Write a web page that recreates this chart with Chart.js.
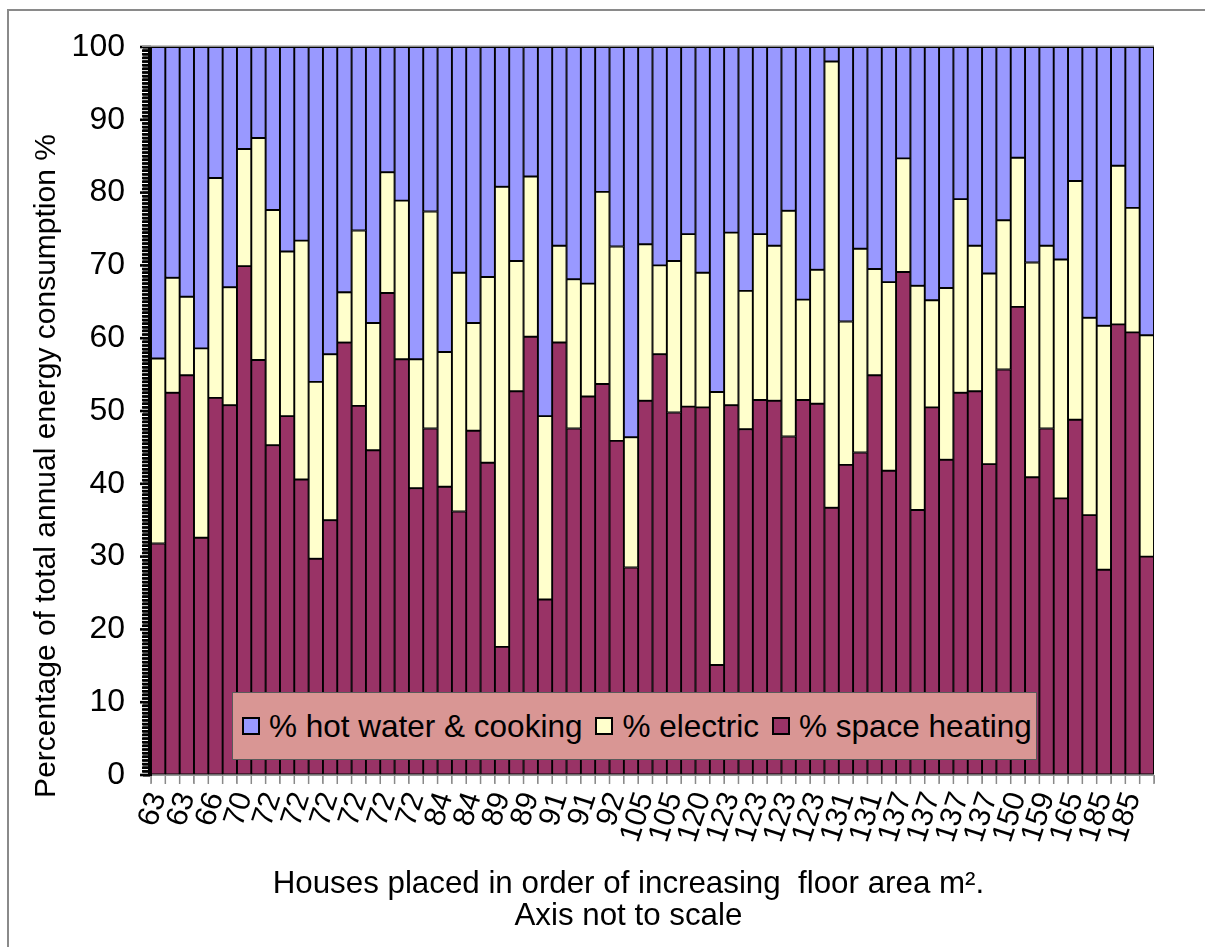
<!DOCTYPE html>
<html>
<head>
<meta charset="utf-8">
<script src="https://cdn.jsdelivr.net/npm/chart.js@4/dist/chart.umd.min.js"></script>
<style>
  html, body { margin: 0; padding: 0; background: #fff; }
  #wrap { position: relative; width: 1205px; height: 947px; }
  #legend {
    position: absolute; left: 232px; top: 692px; width: 805px; height: 68px;
    background: #D99694; border: 1px solid #5a5a5a; box-sizing: border-box;
    display: flex; align-items: center;
    font-family: "Liberation Sans", Arial, sans-serif; font-size: 31.5px; color: #000;
  }
  #legend .item { display: flex; align-items: center; margin-left: 9px; white-space: pre; }
  #legend .item + .item { margin-left: 13px; }
  #legend .sw { width: 18px; height: 18px; border: 2px solid #000; box-sizing: border-box; margin-right: 9px; }
</style>
</head>
<body>
<div id="wrap">
  <canvas id="c" width="1205" height="947"></canvas>
  <div id="legend"></div>
</div>
<script>
// Houses, in order of increasing floor area
const houses = Array.from({ length: 70 }, (_, i) => 'House ' + (i + 1));

// Floor area (m²) shown under every second house
const floorAreaLabels = [
  '63', '63', '66', '70', '72', '72', '72', '72', '72', '72',
  '84', '84', '89', '89', '91', '91', '92', '105', '105', '120',
  '123', '123', '123', '123', '131', '131', '137', '137', '137', '137',
  '150', '159', '165', '185', '185'
];

const yTickLabels = [0, 10, 20, 30, 40, 50, 60, 70, 80, 90, 100];

// Share of total annual energy consumption, %
const spaceHeating = [
  31.8, 52.5, 54.9, 32.6, 51.8, 50.8, 69.9, 57.0, 45.3, 49.3,
  40.6, 29.7, 35.0, 59.4, 50.7, 44.6, 66.2, 57.1, 39.4, 47.6,
  39.6, 36.2, 47.3, 42.9, 17.6, 52.7, 60.2, 24.1, 59.4, 47.6,
  52.0, 53.7, 45.9, 28.5, 51.4, 57.8, 49.8, 50.6, 50.5, 15.1,
  50.8, 47.5, 51.5, 51.4, 46.5, 51.5, 51.0, 36.7, 42.6, 44.3,
  54.9, 41.8, 69.1, 36.4, 50.5, 43.3, 52.5, 52.7, 42.7, 55.7,
  64.3, 40.9, 47.6, 38.0, 48.8, 35.7, 28.2, 61.9, 60.8, 30.0
];

const electric = [
  25.4, 15.8, 10.8, 26.0, 30.2, 16.2, 16.1, 30.5, 32.3, 22.6,
  32.8, 24.3, 22.8, 6.9, 24.1, 17.5, 16.6, 21.8, 17.7, 29.8,
  18.5, 32.8, 14.8, 25.5, 63.2, 17.9, 22.0, 25.2, 13.3, 20.5,
  15.5, 26.4, 26.7, 17.9, 21.5, 12.2, 20.8, 23.7, 18.5, 37.5,
  23.7, 19.0, 22.8, 21.3, 31.0, 13.8, 18.4, 61.3, 19.7, 28.0,
  14.6, 25.9, 15.6, 30.8, 14.7, 23.6, 26.6, 20.0, 26.2, 20.5,
  20.5, 29.5, 25.1, 32.8, 32.8, 27.1, 33.5, 21.8, 17.1, 30.4
];

const hotWaterCooking = [
  42.8, 31.7, 34.3, 41.4, 18.0, 33.0, 14.0, 12.5, 22.4, 28.1,
  26.6, 46.0, 42.2, 33.7, 25.2, 37.9, 17.2, 21.1, 42.9, 22.6,
  41.9, 31.0, 37.9, 31.6, 19.2, 29.4, 17.8, 50.7, 27.3, 31.9,
  32.5, 19.9, 27.4, 53.6, 27.1, 30.0, 29.4, 25.7, 31.0, 47.4,
  25.5, 33.5, 25.7, 27.3, 22.5, 34.7, 30.6, 2.0, 37.7, 27.7,
  30.5, 32.3, 15.3, 32.8, 34.8, 33.1, 20.9, 27.3, 31.1, 23.8,
  15.2, 29.6, 27.3, 29.2, 18.4, 37.2, 38.3, 16.3, 22.1, 39.6
];

const FONT = '"Liberation Sans", Arial, sans-serif';

// Outer frame, tick marks, plot top edge and the two axis titles
const decorations = {
  id: 'decorations',
  beforeDraw(chart) {
    const { ctx } = chart;
    ctx.save();
    ctx.strokeStyle = '#8a8a8a';
    ctx.lineWidth = 2;
    ctx.beginPath();
    ctx.moveTo(8, 947);
    ctx.lineTo(8, 10);
    ctx.lineTo(1205, 10);
    ctx.stroke();
    ctx.restore();
  },
  afterDraw(chart) {
    const { ctx, chartArea } = chart;
    const { x, y } = chart.scales;
    ctx.save();

    // dense tick marks down the value axis
    ctx.fillStyle = '#000';
    y.ticks.forEach(t => {
      const py = y.getPixelForValue(t.value);
      const len = yTickLabels.includes(t.value) ? 11 : 9;
      ctx.fillRect(chartArea.left - len, py - 1.3, len, 2.6);
    });
    ctx.fillRect(chartArea.left - 3, chartArea.top, 3, chartArea.bottom - chartArea.top + 1);

    // tick marks between the houses
    ctx.strokeStyle = '#8a8a8a';
    ctx.lineWidth = 1.5;
    ctx.beginPath();
    for (let i = 0; i <= chart.data.labels.length; i++) {
      const px = x.getPixelForValue(i - 0.5);
      ctx.moveTo(px, chartArea.bottom + 1);
      ctx.lineTo(px, chartArea.bottom + 9);
    }
    ctx.stroke();

    // plot top edge
    ctx.strokeStyle = '#8c8c8c';
    ctx.lineWidth = 1.5;
    ctx.beginPath();
    ctx.moveTo(chartArea.left - 9, chartArea.top - 0.75);
    ctx.lineTo(chartArea.right, chartArea.top - 0.75);
    ctx.stroke();

    // axis titles
    ctx.fillStyle = '#000';
    ctx.textAlign = 'center';
    ctx.textBaseline = 'alphabetic';
    ctx.font = '31.3px ' + FONT;
    const cx = chartArea.left + (chartArea.right - chartArea.left) * 0.476;
    ctx.fillText('Houses placed in order of increasing  floor area m\u00B2.', cx, chartArea.bottom + 118);
    ctx.fillText('Axis not to scale', cx, chartArea.bottom + 150);

    ctx.translate(47, (chartArea.top + chartArea.bottom) / 2 + 55);
    ctx.rotate(-Math.PI / 2);
    ctx.textBaseline = 'middle';
    ctx.font = '30px ' + FONT;
    ctx.fillText('Percentage of total annual energy consumption %', 0, 0);
    ctx.restore();
  }
};

const chart = new Chart(document.getElementById('c'), {
  type: 'bar',
  data: {
    labels: houses,
    datasets: [
      { label: '% space heating', data: spaceHeating, backgroundColor: '#993366' },
      { label: '% electric', data: electric, backgroundColor: '#FFFFCC' },
      { label: '% hot water & cooking', data: hotWaterCooking, backgroundColor: '#9999FF' }
    ]
  },
  options: {
    responsive: false,
    animation: false,
    layout: { padding: { top: 47, right: 51, bottom: 0, left: 0 } },
    datasets: {
      bar: {
        barPercentage: 1,
        categoryPercentage: 1,
        borderColor: '#000',
        borderWidth: 1.3,
        borderSkipped: false
      }
    },
    plugins: {
      legend: { display: false },
      tooltip: { enabled: false }
    },
    scales: {
      x: {
        stacked: true,
        grid: { offset: true, drawOnChartArea: false, tickLength: 8, color: '#999', tickColor: '#999', tickWidth: 1 },
        border: { color: '#999', width: 1 },
        ticks: {
          autoSkip: false,
          minRotation: 72,
          maxRotation: 72,
          padding: 5,
          color: '#000',
          font: { family: FONT, size: 30 },
          callback: (v, i) => (i % 2 === 0 ? floorAreaLabels[i / 2] : '')
        },
        afterFit: s => { s.height = 172; }
      },
      y: {
        stacked: true,
        min: 0,
        max: 100,
        grid: { drawOnChartArea: false, tickLength: 8, tickColor: '#000', tickWidth: 2 },
        border: { color: '#000', width: 2 },
        ticks: {
          stepSize: 0.5,
          autoSkip: false,
          maxTicksLimit: 500,
          padding: 18,
          color: '#000',
          font: { family: FONT, size: 32 },
          callback: v => (yTickLabels.includes(v) ? String(v) : '')
        },
        afterFit: s => { s.width = 151; }
      }
    }
  },
  plugins: [decorations]
});

// Legend built from the datasets, top of the stack first
const legendEl = document.getElementById('legend');
chart.data.datasets.slice().reverse().forEach(ds => {
  const item = document.createElement('div');
  item.className = 'item';
  const sw = document.createElement('span');
  sw.className = 'sw';
  sw.style.background = ds.backgroundColor;
  const txt = document.createElement('span');
  txt.textContent = ds.label;
  item.appendChild(sw);
  item.appendChild(txt);
  legendEl.appendChild(item);
});
</script>
</body>
</html>
